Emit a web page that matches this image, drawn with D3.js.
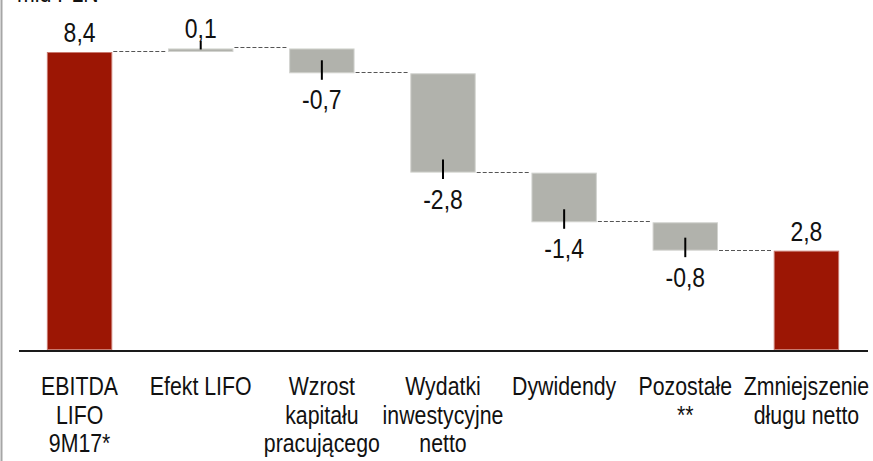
<!DOCTYPE html>
<html>
<head>
<meta charset="utf-8">
<script src="https://cdn.jsdelivr.net/npm/d3@7"></script>
<style>
  html, body { margin: 0; padding: 0; background: #fff; }
  svg { display: block; }
  text { font-family: "Liberation Sans", Arial, sans-serif; fill: #111; }
</style>
</head>
<body>
<svg id="chart" width="873" height="461"></svg>
<script>
// ---- data ----
const unitLabel = "mld PLN";
const categories = [
  ["EBITDA", "LIFO", "9M17*"],
  ["Efekt LIFO"],
  ["Wzrost", "kapitału", "pracującego"],
  ["Wydatki", "inwestycyjne", "netto"],
  ["Dywidendy"],
  ["Pozostałe", "**"],
  ["Zmniejszenie", "długu netto"]
];
const values = [8.4, 0.1, -0.7, -2.8, -1.4, -0.8, 2.8];
const kinds = ["total", "delta", "delta", "delta", "delta", "delta", "total"];

// ---- build ----
const W = 873, H = 461;
const NARROW = 0.82;
const svg = d3.select("#chart");
const pl = d3.formatLocale({decimal: ",", thousands: " ", grouping: [3], currency: ["", " zł"], minus: "-"});
const fmt = pl.format(".1f");

function narrowText(parent, cx, cy, size, anchor) {
  return parent.append("text")
    .attr("transform", `translate(${cx},${cy}) scale(${NARROW},1)`)
    .attr("x", 0).attr("y", 0)
    .attr("text-anchor", anchor || "middle")
    .attr("font-size", size);
}

let run = 0;
const bars = values.map((v, i) => {
  let y0, y1;
  if (kinds[i] === "total") { y0 = 0; y1 = v; run = v; }
  else { y0 = run; y1 = run + v; run = y1; }
  return {i, v, kind: kinds[i], lo: Math.min(y0, y1), hi: Math.max(y0, y1), end: y1};
});

const x = d3.scaleBand().domain(d3.range(values.length)).range([19, 867])
  .paddingInner(0.46).paddingOuter(0.23);
const y = d3.scaleLinear().domain([0, 8.4]).range([350, 52]);

// left frame line
svg.append("line").attr("x1", 1.5).attr("x2", 1.5).attr("y1", 0).attr("y2", H)
  .attr("stroke", "#a6a6a6").attr("stroke-width", 2);

// unit label (partly cut at the top)
narrowText(svg, 17, 2, 26, "start").text(unitLabel);

// connectors
for (let k = 0; k < bars.length - 1; k++) {
  const yy = Math.round(y(bars[k].end)) - 0.5;
  svg.append("line")
    .attr("x1", x(k) + x.bandwidth() + 1).attr("x2", x(k + 1) - 1)
    .attr("y1", yy).attr("y2", yy)
    .attr("stroke", "#555").attr("stroke-width", 1).attr("stroke-dasharray", "4,2");
}

// bars
svg.selectAll("rect.bar").data(bars).enter().append("rect")
  .attr("class", "bar")
  .attr("x", d => x(d.i) + 0.5)
  .attr("width", x.bandwidth() - 1)
  .attr("y", d => y(d.hi) + 0.5)
  .attr("height", d => Math.max(2, y(d.lo) - y(d.hi) - 1))
  .attr("fill", d => d.kind === "total" ? "#9c1604" : "#b1b2ac")
  .attr("stroke", d => d.kind === "total" ? "#c9796f" : "#d2d3cf")
  .attr("stroke-width", 1);

// axis baseline
svg.append("line").attr("x1", 19).attr("x2", 868).attr("y1", 351).attr("y2", 351)
  .attr("stroke", "#1a1a1a").attr("stroke-width", 2);

// leader ticks + value labels
bars.forEach(d => {
  const cx = x(d.i) + x.bandwidth() / 2;
  if (d.kind === "delta" && d.v < 0) {
    const yb = y(d.lo);
    svg.append("line").attr("x1", cx).attr("x2", cx).attr("y1", yb - 13).attr("y2", yb + 6.5)
      .attr("stroke", "#000").attr("stroke-width", 2);
    narrowText(svg, cx, yb + 36, 28).text(fmt(d.v));
  } else {
    const yt = y(d.hi);
    if (d.kind === "delta") {
      svg.append("line").attr("x1", cx).attr("x2", cx).attr("y1", yt - 7.5).attr("y2", yt + 1)
        .attr("stroke", "#000").attr("stroke-width", 2);
    }
    narrowText(svg, cx, yt - 10, 28).text(fmt(d.v));
  }
});

// category labels
categories.forEach((lines, i) => {
  const cx = x(i) + x.bandwidth() / 2;
  lines.forEach((s, j) => {
    narrowText(svg, cx, 395 + j * 28.5, 26).text(s);
  });
});
</script>
</body>
</html>
